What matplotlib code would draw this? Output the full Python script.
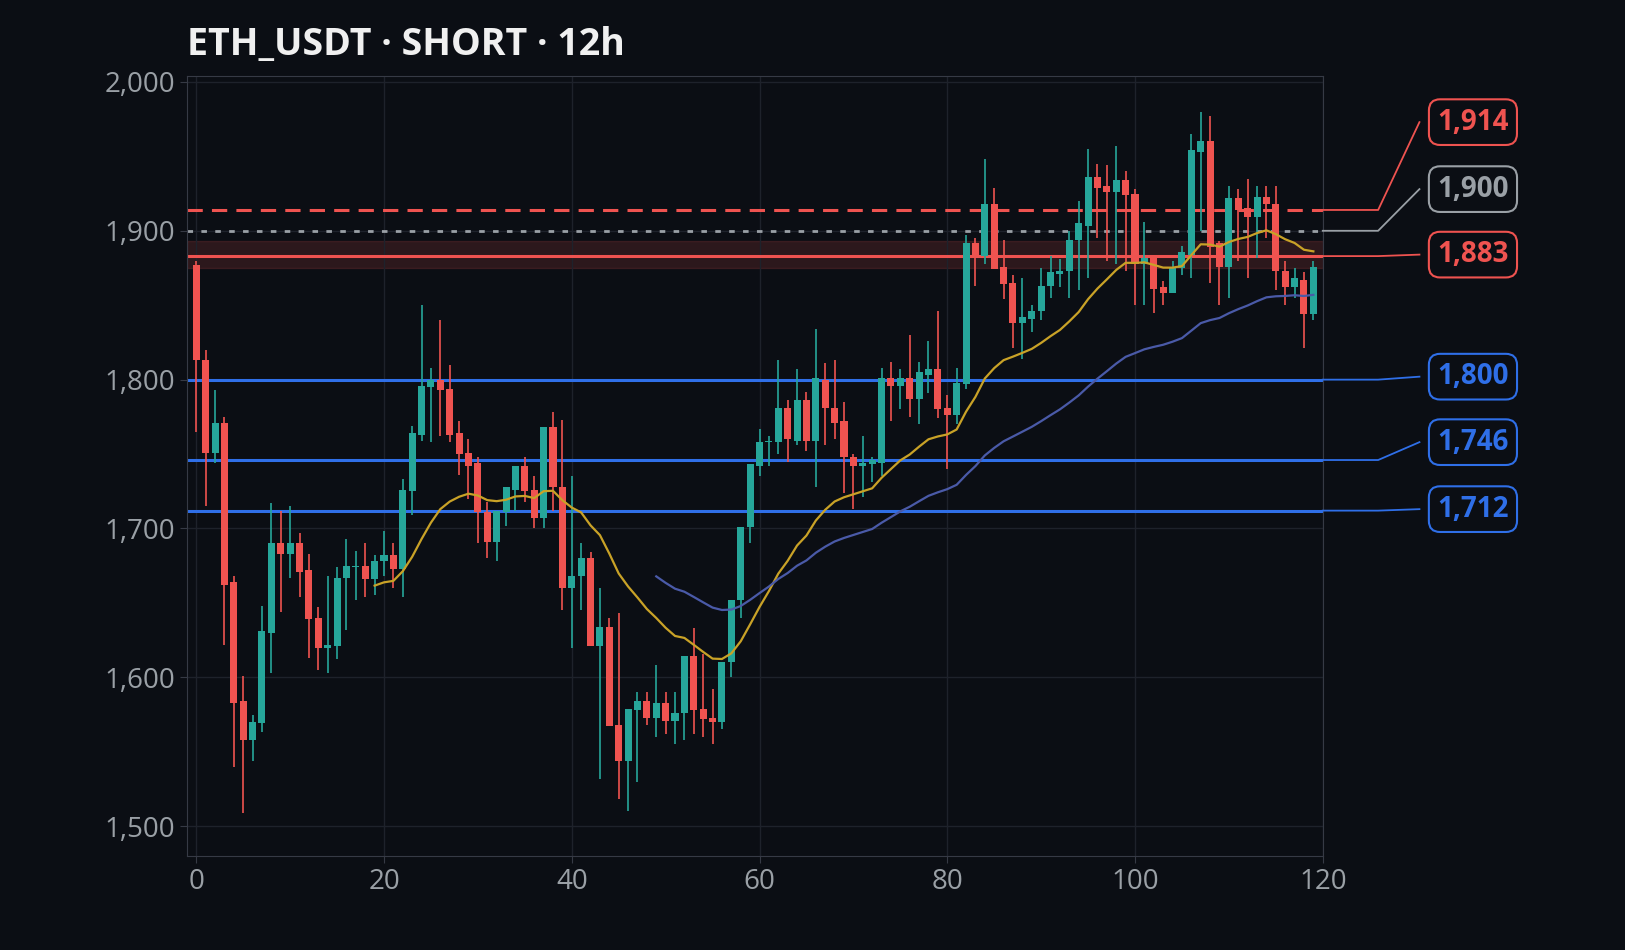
import matplotlib
matplotlib.use("Agg")
import matplotlib.pyplot as plt
import numpy as np
import pandas as pd

plt.rcParams['font.family'] = ['Open Sans', 'DejaVu Sans']

opens = [1877,1813,1751,1771,1664,1584,1558,1569,1630,1690,1683,1690,1672,1640,1620,1621,1667,1674,1675,1666,1678,1682,1673,1725,1763,1795,1800,1794,1764,1751,1744,1711,1691,1711,1726,1742,1726,1707,1768,1728,1660,1668,1680,1621,1634,1568,1544,1578,1584,1573,1583,1571,1576,1614,1579,1573,1570,1610,1652,1701,1742,1758,1758,1781,1759,1786,1759,1800,1781,1772,1748,1742,1743,1744,1801,1796,1801,1787,1803,1807,1781,1776,1797,1892,1883,1918,1876,1865,1838,1841,1846,1863,1871,1873,1894,1903,1936,1930,1926,1934,1925,1878,1884,1862,1858,1875,1884,1953,1960,1892,1876,1922,1915,1909,1923,1918,1873,1862,1867,1844]
closes = [1813,1751,1771,1662,1583,1558,1570,1631,1690,1683,1690,1671,1639,1620,1622,1667,1675,1675,1666,1678,1682,1673,1726,1764,1796,1800,1793,1763,1750,1742,1711,1691,1712,1728,1742,1725,1707,1768,1728,1660,1668,1680,1621,1634,1567,1544,1579,1584,1573,1583,1571,1576,1614,1578,1572,1570,1610,1652,1701,1743,1758,1759,1781,1760,1786,1759,1801,1781,1771,1748,1742,1744,1746,1801,1796,1801,1787,1805,1807,1780,1776,1798,1892,1883,1918,1874,1864,1838,1842,1846,1863,1872,1873,1894,1905,1936,1929,1926,1934,1924,1878,1882,1861,1858,1875,1886,1954,1960,1889,1876,1922,1914,1909,1923,1918,1873,1862,1868,1844,1876]
highs = [1880,1820,1793,1775,1668,1601,1575,1648,1717,1712,1715,1697,1683,1647,1668,1674,1693,1685,1690,1682,1698,1690,1733,1769,1850,1808,1840,1810,1772,1760,1748,1718,1700,1716,1736,1748,1735,1716,1778,1773,1735,1690,1684,1660,1640,1643,1570,1590,1590,1608,1590,1590,1584,1633,1616,1592,1590,1640,1670,1716,1767,1762,1813,1786,1807,1792,1834,1811,1813,1785,1750,1762,1748,1808,1812,1807,1830,1812,1826,1846,1790,1808,1897,1895,1948,1929,1894,1870,1868,1850,1875,1883,1881,1900,1920,1955,1945,1944,1957,1940,1928,1906,1883,1866,1880,1890,1965,1980,1977,1893,1930,1928,1935,1930,1930,1930,1880,1875,1872,1880]
lows = [1765,1715,1744,1622,1540,1509,1544,1563,1603,1644,1667,1654,1613,1605,1603,1612,1632,1652,1654,1655,1668,1660,1654,1709,1759,1758,1762,1758,1736,1720,1690,1680,1678,1702,1712,1718,1700,1700,1712,1645,1620,1645,1640,1532,1610,1518,1510,1530,1568,1560,1562,1555,1558,1562,1560,1555,1565,1600,1640,1690,1735,1742,1750,1745,1756,1752,1728,1756,1760,1724,1713,1721,1731,1735,1772,1780,1775,1770,1791,1774,1740,1770,1794,1863,1878,1874,1854,1821,1814,1832,1840,1855,1862,1855,1860,1868,1895,1880,1878,1873,1850,1850,1845,1850,1860,1870,1868,1900,1865,1850,1855,1880,1868,1882,1895,1860,1850,1855,1821,1840]

long_levels = [1800, 1746, 1712]
stop_level = 1914
entry_level = 1900
zone_level = 1883
zone_band = (1875, 1893)
label_prices = [1914, 1900, 1883, 1800, 1746, 1712]
label_y = [1973, 1928, 1884, 1802, 1758, 1713]

BG = "#0b0e14"
GREEN = "#26a69a"
RED = "#ef5350"
BLUE = "#2f6fe8"
GRAY = "#9aa0a6"

fig = plt.figure(figsize=(16.25, 9.5), dpi=100, facecolor=BG)
ax = fig.add_axes([0.115, 0.099, 0.699, 0.821], facecolor=BG)

x = np.arange(len(closes))
o = np.array(opens); c = np.array(closes); h = np.array(highs); l = np.array(lows)
col = np.where(c >= o, GREEN, RED)
ax.vlines(x, l, h, colors=col, linewidth=1.2, zorder=3)
ax.bar(x, np.maximum(np.abs(c - o), 1.0), bottom=np.minimum(o, c), width=0.75, color=col, zorder=4)

s = pd.Series(closes, dtype=float)
ema20 = s.ewm(span=20, adjust=True).mean(); ema20[:19] = np.nan
ema50 = s.ewm(span=50, adjust=True).mean(); ema50[:49] = np.nan
ax.plot(x, ema20, color="#c9a227", linewidth=1.6, zorder=5)
ax.plot(x, ema50, color="#4a5aa8", linewidth=1.6, zorder=5)

ax.axhspan(zone_band[0], zone_band[1], color=RED, alpha=0.15, zorder=1)
ax.axhline(zone_level, color=RED, linewidth=2.2, zorder=2)
ax.axhline(stop_level, color=RED, linewidth=2.2, linestyle=(0, (5, 3)), zorder=2)
ax.axhline(entry_level, color=GRAY, linewidth=2, linestyle=(0, (2, 3)), zorder=2)
for lv in long_levels:
    ax.axhline(lv, color=BLUE, linewidth=2.2, zorder=2)

ax.set_xlim(-1, 120)
ax.set_ylim(1480, 2004)
ax.set_xticks([0, 20, 40, 60, 80, 100, 120])
ax.set_yticks([1500, 1600, 1700, 1800, 1900, 2000])
ax.yaxis.set_major_formatter(matplotlib.ticker.FuncFormatter(lambda v, p: f"{int(v):,}"))
ax.grid(True, color="#1e222b", linewidth=1, zorder=0)
for sp in ax.spines.values():
    sp.set_color("#363a45")
ax.tick_params(colors="#363a45", labelcolor="#9aa0a6", labelsize=20, length=5)

colors = [RED, GRAY, RED, BLUE, BLUE, BLUE]
for p, ly, cc in zip(label_prices, label_y, colors):
    ax.plot([120, 125.9, 130.3], [p, p, ly], color=cc, linewidth=1.3, clip_on=False, zorder=6)
    ax.text(136.0, ly, f"{p:,}", color=cc, fontsize=20, fontweight="bold", ha="center", va="center",
            clip_on=False,
            bbox=dict(boxstyle="round,pad=0.3,rounding_size=0.4", facecolor=BG, edgecolor=cc, linewidth=1.5))

fig.text(0.115, 0.953, "ETH_USDT · SHORT · 12h", color="#f0f0f0", fontsize=27, fontweight="bold",
         ha="left", va="center")

fig.savefig("out.png", dpi=100, facecolor=BG)
